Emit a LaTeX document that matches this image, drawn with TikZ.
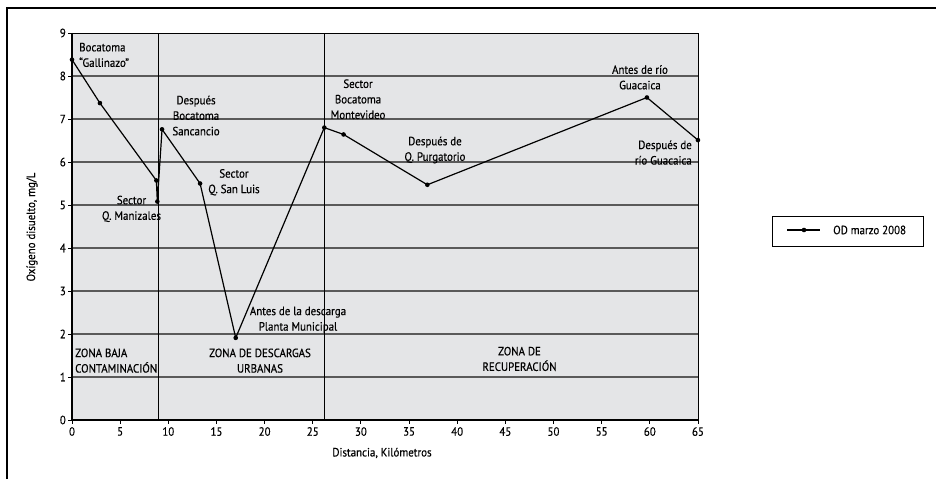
\documentclass[tikz,border=0pt]{standalone}
\usepackage{fontspec}
\setmainfont[FakeStretch=0.91, FakeBold=0.4]{PT Sans}
\definecolor{plotbg}{HTML}{E4E5E7}
\definecolor{gridgray}{HTML}{5A5A5A}
\tikzset{
  dot/.style={circle, fill=black, inner sep=0pt, minimum size=4.6pt},
  lbl/.style={align=center, inner sep=0pt, font=\fontsize{12}{15.5}\selectfont},
  ticklbl/.style={inner sep=0pt, font=\fontsize{12}{14}\selectfont}
}
\begin{document}
\begin{tikzpicture}[x=1pt, y=1pt]
  \useasboundingbox (0,0) rectangle (936,479);
  % outer frame
  \draw[line width=1.1pt] (7,0) -- (7,471) -- (936,471);

  \begin{scope}[shift={(72pt,59pt)}, x=9.63pt, y=43pt]
    % plot area and grid
    \fill[plotbg] (0,0) rectangle (65,9);
    \foreach \v in {1,...,8}
      \draw[gridgray, line width=1.2pt] (0,\v) -- (65,\v);
    \draw[line width=0.9pt] (0,9) -- (65,9) -- (65,0);
    \draw[line width=0.8pt] (8.93,0) -- (8.93,9);
    \draw[line width=0.8pt] (26.2,0) -- (26.2,9);
    \draw[line width=1.4pt] (0,9) -- (0,0) -- (65,0);

    % ticks
    \foreach \v in {0,...,9} {
      \draw[line width=0.9pt] (0,\v) -- ++(-4pt,0);
      \node[ticklbl, anchor=east] (y\v) at ([xshift=-6pt]0,\v) {\v};
    }
    \foreach \k in {0,5,...,65} {
      \draw[line width=0.9pt] (\k,0) -- ++(0,-4pt);
      \node[ticklbl, anchor=north] (x\k) at ([yshift=-7pt]\k,0) {\k};
    }

    % data
    \node[dot] (p1) at (0,8.38) {};
    \node[dot] (p2) at (2.9,7.37) {};
    \node[dot] (p3) at (8.76,5.57) {};
    \node[dot] (p4) at (8.86,5.08) {};
    \node[dot] (p5) at (9.35,6.76) {};
    \node[dot] (p6) at (13.3,5.5) {};
    \node[dot] (p7) at (17.0,1.91) {};
    \node[dot] (p8) at (26.2,6.8) {};
    \node[dot] (p9) at (28.2,6.64) {};
    \node[dot] (p10) at (36.9,5.47) {};
    \node[dot] (p11) at (59.7,7.5) {};
    \node[dot] (p12) at (65.0,6.51) {};
    \draw[line width=1.2pt] (p1.center) -- (p2.center) -- (p3.center) -- (p4.center)
      -- (p5.center) -- (p6.center) -- (p7.center) -- (p8.center) -- (p9.center)
      -- (p10.center) -- (p11.center) -- (p12.center);

    % point labels
    \node[lbl, align=left, anchor=west] (gallinazo) at (0.73,8.49) {Bocatoma\\“Gallinazo”};
    \node[lbl] (sancancio) at (12.88,7.08) {Después\\Bocatoma\\Sancancio};
    \node[lbl] (sanluis) at (16.82,5.53) {Sector\\Q. San Luis};
    \node[lbl] (manizales) at (6.18,4.91) {Sector\\Q. Manizales};
    \node[lbl] (municipal) at (23.47,2.33) {Antes de la descarga\\Planta Municipal};
    \node[lbl] (montevideo) at (29.7,7.46) {Sector\\Bocatoma\\Montevideo};
    \node[lbl] (purgatorio) at (37.69,6.28) {Después de\\Q. Purgatorio};
    \node[lbl] (antesrio) at (58.98,7.97) {Antes de río\\Guacaica};
    \node[lbl, align=right, anchor=east] (despuesrio) at (64.38,6.22) {Después de\\río Guacaica};

    % zones
    \node[lbl, align=left, anchor=west] (zbaja) at (0.31,1.38) {ZONA BAJA\\CONTAMINACIÓN};
    \node[lbl] (zdescargas) at (19.52,1.38) {ZONA DE DESCARGAS\\URBANAS};
    \node[lbl] (zrecup) at (46.47,1.42) {ZONA DE\\RECUPERACIÓN};
  \end{scope}

  % axis titles
  \node[ticklbl, rotate=90] (ytitle) at (32,252) {Oxígeno disuelto, mg/L};
  \node[ticklbl] (xtitle) at (382,26) {Distancia, Kilómetros};

  % legend
  \draw[line width=0.8pt] (772,233) rectangle (923,263);
  \coordinate (la) at (787,249);
  \coordinate (lb) at (820,249);
  \node[dot] (lmark) at (804,249) {};
  \draw[line width=1.2pt] (la) -- (lb);
  \node[ticklbl, anchor=west] (ltext) at (833,249) {OD marzo 2008};
\end{tikzpicture}
\end{document}
